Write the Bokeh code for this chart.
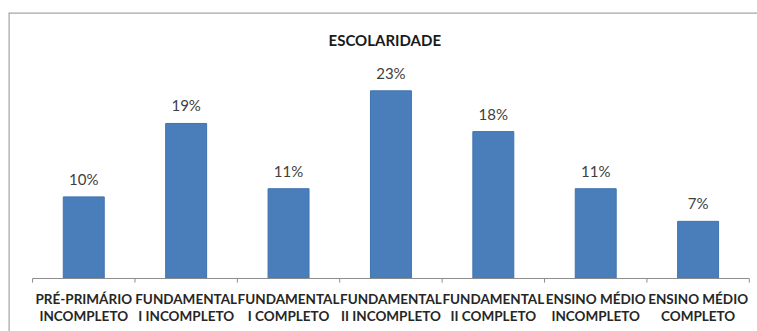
from bokeh.plotting import figure
from bokeh.models import Range1d, ColumnDataSource, Label, Span
from bokeh.core.properties import value
from bokeh.embed import file_html
from bokeh.resources import INLINE

title = "ESCOLARIDADE"
categories = [
    "PRÉ-PRIMÁRIO\nINCOMPLETO",
    "FUNDAMENTAL\nI INCOMPLETO",
    "FUNDAMENTAL\nI COMPLETO",
    "FUNDAMENTAL\nII INCOMPLETO",
    "FUNDAMENTAL\nII COMPLETO",
    "ENSINO MÉDIO\nINCOMPLETO",
    "ENSINO MÉDIO\nCOMPLETO",
]
values = [10, 19, 11, 23, 18, 11, 7]

n = len(categories)
idx = list(range(n))
line1 = [c.split("\n")[0] for c in categories]
line2 = [c.split("\n")[1] for c in categories]
labels = [f"{v}%" for v in values]

src = ColumnDataSource(dict(x=idx, top=values, lab=labels, l1=line1, l2=line2))

x0, x1 = -0.735, 6.58
y0, y1 = -6.5, 32.6
p = figure(width=757, height=331, output_backend="svg", toolbar_location=None,
           x_range=Range1d(x0, x1), y_range=Range1d(y0, y1),
           x_axis_location=None, y_axis_location=None,
           min_border_left=8, min_border_top=12, min_border_right=0, min_border_bottom=0)
p.xgrid.visible = False
p.ygrid.visible = False
p.outline_line_color = None
p.background_fill_color = "white"
p.border_fill_color = "white"

# chart box border (left and top visible)
p.add_layout(Span(location=x0, dimension="height", line_color="#a6a6a6", line_width=2.5))
p.add_layout(Span(location=y1, dimension="width", line_color="#a6a6a6", line_width=2.5))

p.vbar(x="x", top="top", bottom=0, width=0.40, source=src,
       fill_color="#4a7ebb", line_color="#3f73b0", line_width=1)

p.text(x="x", y="top", text="lab", source=src, text_align="center",
       text_baseline="bottom", y_offset=-9, text_font=value("Lato"),
       text_font_size="15px", text_color="#404040")

# category axis line and ticks
p.segment(x0=[-0.5], y0=[0], x1=[n - 0.5], y1=[0], line_color="#8c8c8c", line_width=1)
p.segment(x0=[i - 0.5 for i in range(n + 1)], y0=[0] * (n + 1),
          x1=[i - 0.5 for i in range(n + 1)], y1=[-0.5] * (n + 1),
          line_color="#8c8c8c", line_width=1)

p.text(x="x", y=-2.5, text="l1", source=src, text_align="center",
       text_baseline="middle", text_font=value("Lato"), text_font_style="bold",
       text_font_size="13.5px", text_color="#262626")
p.text(x="x", y=-4.6, text="l2", source=src, text_align="center",
       text_baseline="middle", text_font=value("Lato"), text_font_style="bold",
       text_font_size="13.5px", text_color="#262626")

p.add_layout(Label(x=(n - 1) / 2 - 0.06, y=29.2, text=title, text_align="center",
                   text_baseline="middle", text_font="Lato", text_font_style="bold",
                   text_font_size="15px", text_color="#1a1a1a"))

open("out.html", "w").write(file_html(p, INLINE))
